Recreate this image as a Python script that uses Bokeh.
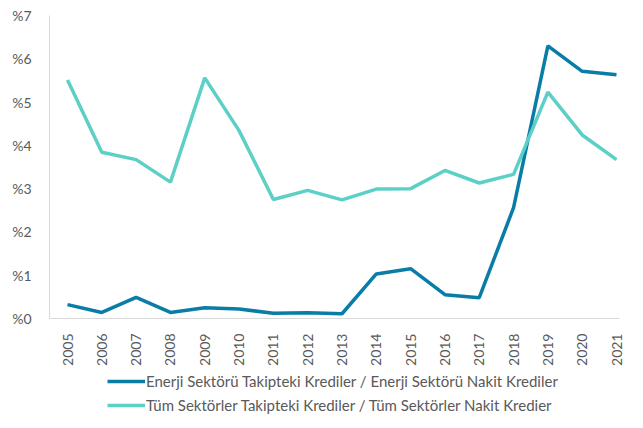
from bokeh.plotting import figure
from bokeh.models import Range1d, FixedTicker, Legend, LegendItem
from bokeh.layouts import column
from bokeh.embed import file_html
from bokeh.resources import INLINE

years = list(range(2005, 2022))
enerji = [0.32, 0.14, 0.49, 0.14, 0.25, 0.22, 0.12, 0.13, 0.11, 1.03, 1.15, 0.55, 0.48, 2.56, 6.30, 5.71, 5.63]
tum = [5.51, 3.84, 3.67, 3.15, 5.56, 4.34, 2.75, 2.96, 2.74, 2.99, 3.00, 3.42, 3.13, 3.33, 5.23, 4.24, 3.67]
y_ticks = [0, 1, 2, 3, 4, 5, 6, 7]
y_labels = ["%0", "%1", "%2", "%3", "%4", "%5", "%6", "%7"]
names = ["Enerji Sektörü Takipteki Krediler / Enerji Sektörü Nakit Krediler",
         "Tüm Sektörler Takipteki Krediler / Tüm Sektörler Nakit Kredier"]
colors = ["#0A7DA7", "#5CCFC7"]

FONT = "Lato"
GRAY = "#595959"

p = figure(output_backend="svg", toolbar_location=None,
           x_range=Range1d(2004.4754, 2021.0874), y_range=Range1d(0, 7),
           frame_width=570, frame_height=303,
           min_border_left=49, min_border_right=8, min_border_top=15, min_border_bottom=48)
p.outline_line_color = None
p.xgrid.visible = False
p.ygrid.visible = False

p.line(years, enerji, line_color=colors[0], line_width=3.5)
p.line(years, tum, line_color=colors[1], line_width=3.5)

p.yaxis.ticker = FixedTicker(ticks=y_ticks)
p.yaxis.major_label_overrides = {t: l for t, l in zip(y_ticks, y_labels)}
p.xaxis.ticker = FixedTicker(ticks=years)
p.xaxis.major_label_overrides = {y: str(y) for y in years}
p.xaxis.major_label_orientation = 1.5707963

for ax in (p.xaxis, p.yaxis):
    ax.axis_line_color = "#D9D9D9"
    ax.axis_line_width = 1
    ax.major_tick_line_color = None
    ax.minor_tick_line_color = None
    ax.major_label_text_font = FONT
    ax.major_label_text_color = GRAY
p.yaxis.major_label_text_font_size = "14px"
p.xaxis.major_label_text_font_size = "14px"
p.yaxis.major_label_standoff = 12
p.xaxis.major_label_standoff = 9

# legend strip below the chart (series drawn outside its ranges, only the legend shows)
lg = figure(output_backend="svg", toolbar_location=None, width=627, height=46,
            x_range=Range1d(0, 1), y_range=Range1d(-10, -9), min_border=0,
            x_axis_location=None, y_axis_location=None)
lg.grid.visible = False
lg.outline_line_color = None
l1 = lg.line(years, enerji, line_color=colors[0], line_width=3.5)
l2 = lg.line(years, tum, line_color=colors[1], line_width=3.5)

legend = Legend(items=[LegendItem(label=names[0], renderers=[l1]),
                       LegendItem(label=names[1], renderers=[l2])],
                orientation="vertical", location=(58, 0))
legend.border_line_color = None
legend.background_fill_alpha = 0
legend.label_text_font = FONT
legend.label_text_font_size = "15px"
legend.label_text_color = GRAY
legend.glyph_width = 38
legend.glyph_height = 18
legend.label_height = 18
legend.label_standoff = 1
legend.spacing = 6
legend.padding = 2
legend.margin = 0
lg.add_layout(legend, "center")

open("out.html", "w").write(file_html(column(p, lg), INLINE))
